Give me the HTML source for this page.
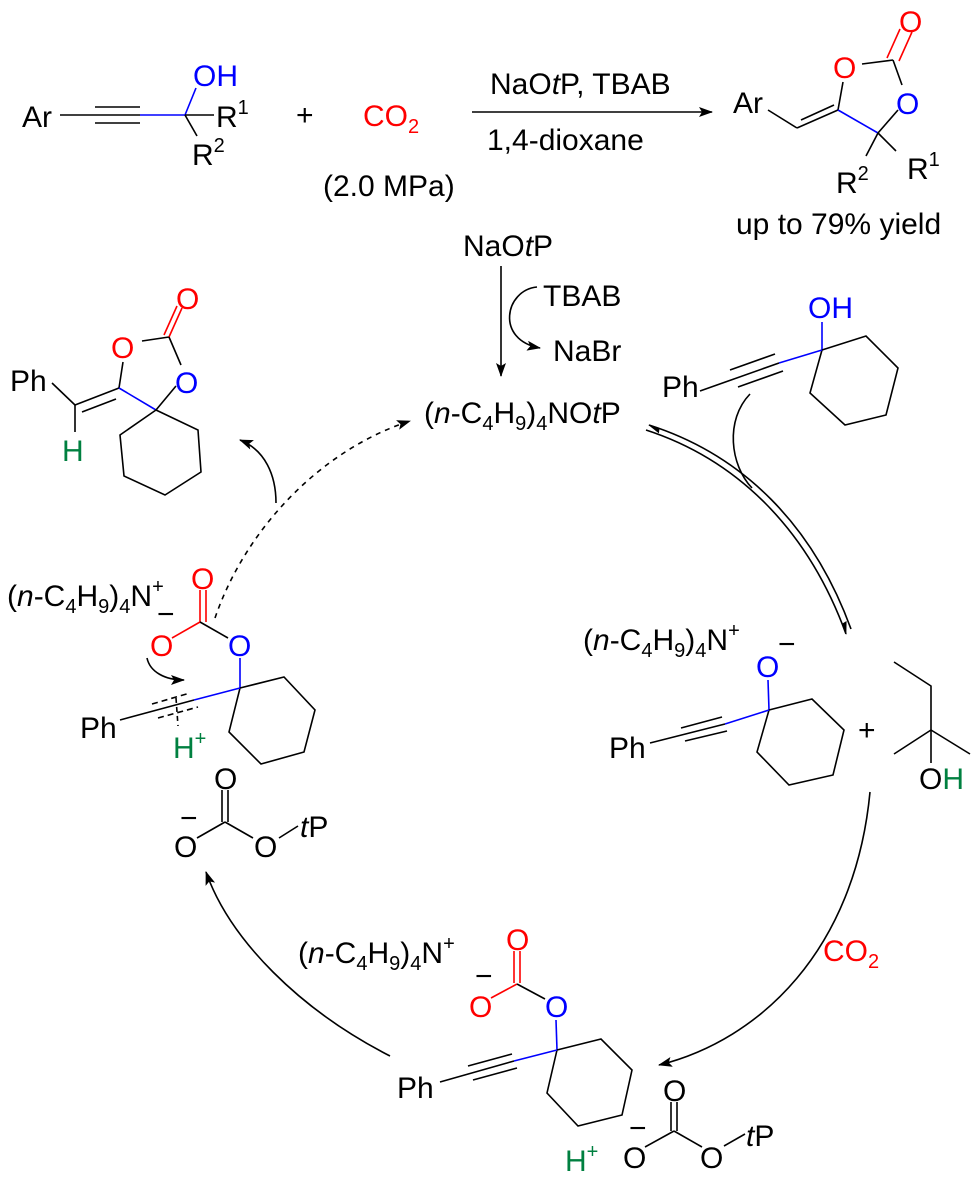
<!DOCTYPE html>
<html><head><meta charset="utf-8"><style>
html,body{margin:0;padding:0;background:#fff}
svg{display:block}
text{font-family:"Liberation Sans",Arial,sans-serif;font-size:30px}
.r{fill:#f00}.b{fill:#00f}.g{fill:#008040}
line,path,polyline,polygon{stroke-width:1.6;fill:none}
</style></head><body>
<svg width="977" height="1182" viewBox="0 0 977 1182" xmlns="http://www.w3.org/2000/svg">
<defs>
<marker id="ah" markerWidth="14" markerHeight="10" refX="13" refY="5" orient="auto" markerUnits="userSpaceOnUse"><path d="M0,0 L14,5 L0,10 L3,5z" style="fill:#000;stroke:none"/></marker>
<marker id="hp" markerWidth="14" markerHeight="10" refX="13" refY="6" orient="auto" markerUnits="userSpaceOnUse"><path d="M1,1 L14,6 L2,6z" style="fill:#000;stroke:none"/></marker>
</defs>
<g stroke="#000">
<line x1="60" y1="115" x2="140" y2="115"/>
<line x1="95" y1="107" x2="140" y2="107"/>
<line x1="95" y1="123" x2="140" y2="123"/>
<line x1="140" y1="115" x2="185" y2="115" stroke="#00f"/>
<line x1="185" y1="115" x2="196" y2="88" stroke="#00f"/>
<line x1="185" y1="115" x2="214" y2="115"/>
<line x1="185" y1="115" x2="197" y2="136"/>
<line x1="472" y1="112" x2="712" y2="112" marker-end="url(#ah)"/>
<line x1="768" y1="110" x2="797" y2="128"/>
<line x1="797" y1="128" x2="838" y2="110"/>
<line x1="801" y1="120" x2="834" y2="105"/>
<line x1="838" y1="110" x2="843" y2="82"/>
<line x1="862" y1="64" x2="893" y2="60"/>
<line x1="899" y1="61" x2="912" y2="32" stroke="#f00"/>
<line x1="887" y1="58" x2="900" y2="29" stroke="#f00"/>
<line x1="893" y1="60" x2="902" y2="85"/>
<line x1="838" y1="110" x2="878" y2="133" stroke="#00f"/>
<line x1="878" y1="133" x2="898" y2="110"/>
<line x1="878" y1="133" x2="896" y2="151"/>
<line x1="878" y1="133" x2="866" y2="156"/>
<line x1="501" y1="266" x2="501" y2="376" marker-end="url(#ah)"/>
<path d="M537,287 C505,290 495,340 540,348" marker-end="url(#ah)"/>
<line x1="52" y1="383" x2="75" y2="405"/>
<line x1="75" y1="405" x2="119" y2="388"/>
<line x1="82" y1="412" x2="116" y2="399"/>
<line x1="75" y1="405" x2="75" y2="432"/>
<line x1="119" y1="388" x2="123" y2="362"/>
<line x1="142" y1="341" x2="169" y2="337"/>
<line x1="169" y1="337" x2="182" y2="308" stroke="#f00"/>
<line x1="164" y1="335" x2="177" y2="306" stroke="#f00"/>
<line x1="169" y1="337" x2="181" y2="365"/>
<line x1="119" y1="388" x2="156" y2="410" stroke="#00f"/>
<line x1="156" y1="410" x2="176" y2="386"/>
<polygon points="156,410 198,430 201,472 165,495 124,476 120,435"/>
<path d="M276,503 C276,475 265,450 240,440" marker-end="url(#ah)"/>
<path d="M215,618 C245,530 320,450 410,421" stroke-dasharray="5,5" marker-end="url(#ah)"/>
<line x1="822" y1="322" x2="822" y2="350" stroke="#00f"/>
<polygon points="822,350 866,336 898,368 886,415 845,425 810,393"/>
<line x1="822" y1="350" x2="779" y2="363" stroke="#00f"/>
<line x1="779" y1="363" x2="700" y2="391"/>
<line x1="775" y1="354" x2="730" y2="370"/>
<line x1="783" y1="371" x2="738" y2="387"/>
<path d="M750,394 C725,420 730,465 752,488"/>
<path d="M646,430 C738,460 808,530 846,634" marker-end="url(#hp)"/>
<path d="M851,629 C813,525 743,455 649,425" marker-end="url(#hp)"/>
<line x1="200" y1="590" x2="200" y2="622" stroke="#f00"/>
<line x1="206" y1="590" x2="206" y2="622" stroke="#f00"/>
<line x1="200" y1="622" x2="172" y2="638" stroke="#f00"/>
<line x1="200" y1="622" x2="228" y2="638"/>
<line x1="240" y1="658" x2="240" y2="688" stroke="#00f"/>
<polygon points="240,688 284,677 315,710 304,752 261,764 229,732"/>
<line x1="240" y1="688" x2="194" y2="700" stroke="#00f"/>
<line x1="194" y1="700" x2="120" y2="720"/>
<line x1="152" y1="704" x2="190" y2="693" stroke-dasharray="6,4"/>
<line x1="158" y1="718" x2="198" y2="707" stroke-dasharray="6,4"/>
<line x1="176" y1="698" x2="178" y2="726" stroke-dasharray="5,4"/>
<path d="M147,658 C150,672 165,680 184,680" marker-end="url(#ah)"/>
<line x1="222" y1="790" x2="222" y2="822"/>
<line x1="228" y1="790" x2="228" y2="822"/>
<line x1="225" y1="822" x2="197" y2="838"/>
<line x1="225" y1="822" x2="253" y2="838"/>
<line x1="279" y1="838" x2="298" y2="826"/>
<path d="M390,1056 C300,1010 230,940 206,872" marker-end="url(#ah)"/>
<line x1="768" y1="680" x2="769" y2="710" stroke="#00f"/>
<polygon points="769,710 812,699 844,730 833,775 789,785 757,752"/>
<line x1="769" y1="710" x2="725" y2="724" stroke="#00f"/>
<line x1="725" y1="724" x2="650" y2="743"/>
<line x1="681" y1="728" x2="722" y2="717"/>
<line x1="685" y1="741" x2="727" y2="731"/>
<polyline points="894,662 931,686 931,730 894,754"/>
<line x1="931" y1="730" x2="970" y2="754"/>
<line x1="931" y1="730" x2="931" y2="763"/>
<path d="M870,792 C855,950 760,1040 659,1065" marker-end="url(#ah)"/>
<line x1="514" y1="951" x2="514" y2="983" stroke="#f00"/>
<line x1="520" y1="951" x2="520" y2="983" stroke="#f00"/>
<line x1="517" y1="984" x2="491" y2="998" stroke="#f00"/>
<line x1="517" y1="984" x2="545" y2="999"/>
<line x1="556" y1="1020" x2="557" y2="1050" stroke="#00f"/>
<polygon points="557,1050 601,1039 632,1070 622,1115 578,1126 547,1093"/>
<line x1="557" y1="1050" x2="514" y2="1061" stroke="#00f"/>
<line x1="514" y1="1061" x2="440" y2="1082"/>
<line x1="468" y1="1066" x2="512" y2="1054"/>
<line x1="473" y1="1080" x2="517" y2="1068"/>
<line x1="671" y1="1102" x2="671" y2="1131"/>
<line x1="677" y1="1102" x2="677" y2="1131"/>
<line x1="674" y1="1131" x2="645" y2="1147"/>
<line x1="674" y1="1131" x2="702" y2="1147"/>
<line x1="724" y1="1146" x2="745" y2="1134"/>
</g>
<g>
<text x="22" y="127">Ar</text>
<text x="193" y="86" class="b">OH</text>
<text x="216" y="127">R<tspan font-size="20" dy="-13">1</tspan></text>
<text x="192" y="165">R<tspan font-size="20" dy="-13">2</tspan></text>
<text x="296" y="125">+</text>
<text x="363" y="126" class="r">CO<tspan font-size="20" dy="7">2</tspan></text>
<text x="323" y="196">(2.0 MPa)</text>
<text x="490" y="94">NaO<tspan font-style="italic">t</tspan>P, TBAB</text>
<text x="487" y="150">1,4-dioxane</text>
<text x="733" y="113">Ar</text>
<text x="833" y="78" class="r">O</text>
<text x="899" y="32" class="r">O</text>
<text x="896" y="114" class="b">O</text>
<text x="907" y="179">R<tspan font-size="20" dy="-13">1</tspan></text>
<text x="836" y="193">R<tspan font-size="20" dy="-13">2</tspan></text>
<text x="736" y="234">up to 79% yield</text>
<text x="463" y="256">NaO<tspan font-style="italic">t</tspan>P</text>
<text x="543" y="306">TBAB</text>
<text x="553" y="361">NaBr</text>
<text x="424" y="423">(<tspan font-style="italic">n</tspan>-C<tspan font-size="20" dy="7">4</tspan><tspan dy="-7">H</tspan><tspan font-size="20" dy="7">9</tspan><tspan dy="-7">)</tspan><tspan font-size="20" dy="7">4</tspan><tspan dy="-7">NO</tspan><tspan font-style="italic">t</tspan>P</text>
<text x="10" y="391">Ph</text>
<text x="62" y="461" class="g">H</text>
<text x="111" y="358" class="r">O</text>
<text x="176" y="309" class="r">O</text>
<text x="175" y="393" class="b">O</text>
<text x="808" y="318" class="b">OH</text>
<text x="662" y="397">Ph</text>
<text x="7" y="606">(<tspan font-style="italic">n</tspan>-C<tspan font-size="20" dy="7">4</tspan><tspan dy="-7">H</tspan><tspan font-size="20" dy="7">9</tspan><tspan dy="-7">)</tspan><tspan font-size="20" dy="7">4</tspan><tspan dy="-7">N</tspan><tspan font-size="20" dy="-13">+</tspan></text>
<text x="191" y="589" class="r">O</text>
<text x="150" y="656" class="r">O</text>
<text x="157" y="624" font-size="16">−</text>
<text x="228" y="656" class="b">O</text>
<text x="80" y="738">Ph</text>
<text x="173" y="758" class="g">H<tspan font-size="20" dy="-13">+</tspan></text>
<text x="214" y="789">O</text>
<text x="174" y="857">O</text>
<text x="180" y="828" font-size="16">−</text>
<text x="254" y="857">O</text>
<text x="300" y="837"><tspan font-style="italic">t</tspan>P</text>
<text x="583" y="650">(<tspan font-style="italic">n</tspan>-C<tspan font-size="20" dy="7">4</tspan><tspan dy="-7">H</tspan><tspan font-size="20" dy="7">9</tspan><tspan dy="-7">)</tspan><tspan font-size="20" dy="7">4</tspan><tspan dy="-7">N</tspan><tspan font-size="20" dy="-13">+</tspan></text>
<text x="756" y="677" class="b">O</text>
<text x="778" y="654" font-size="16">−</text>
<text x="609" y="758">Ph</text>
<text x="858" y="740">+</text>
<text x="919" y="789">O<tspan class="g">H</tspan></text>
<text x="823" y="961" class="r">CO<tspan font-size="20" dy="7">2</tspan></text>
<text x="298" y="963">(<tspan font-style="italic">n</tspan>-C<tspan font-size="20" dy="7">4</tspan><tspan dy="-7">H</tspan><tspan font-size="20" dy="7">9</tspan><tspan dy="-7">)</tspan><tspan font-size="20" dy="7">4</tspan><tspan dy="-7">N</tspan><tspan font-size="20" dy="-13">+</tspan></text>
<text x="506" y="950" class="r">O</text>
<text x="469" y="1017" class="r">O</text>
<text x="475" y="986" font-size="16">−</text>
<text x="545" y="1017" class="b">O</text>
<text x="397" y="1098">Ph</text>
<text x="565" y="1171" class="g">H<tspan font-size="20" dy="-13">+</tspan></text>
<text x="663" y="1101">O</text>
<text x="623" y="1168">O</text>
<text x="629" y="1138" font-size="16">−</text>
<text x="700" y="1168">O</text>
<text x="746" y="1146"><tspan font-style="italic">t</tspan>P</text>
</g>
</svg>
</body></html>
